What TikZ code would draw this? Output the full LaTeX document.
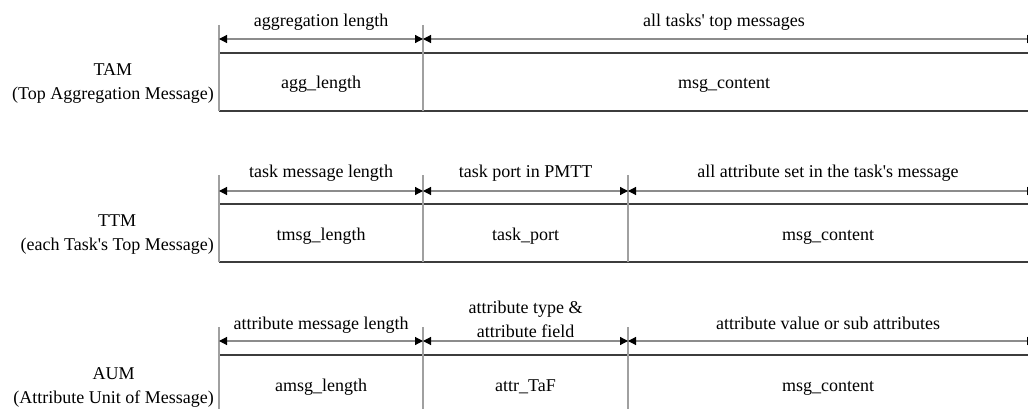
\documentclass[tikz,border=0pt]{standalone}
\usepackage{fontspec}
\setmainfont{Liberation Serif}
\usetikzlibrary{arrows.meta}
\definecolor{rulegray}{HTML}{A0A0A0}
\definecolor{dimgray}{HTML}{8C8C8C}
\definecolor{boxline}{HTML}{3C3C3C}

\begin{document}
\begin{tikzpicture}[x=1pt,y=-1pt,font=\fontsize{18}{24}\selectfont,
  >={Triangle[length=8pt,width=8pt,color=black]},
  sep/.style={draw=rulegray,line width=1.2pt},
  wall/.style={draw=boxline,line width=1.2pt},
  dim/.style={<->,draw=dimgray,line width=1.2pt},
  span/.style={anchor=base,inner sep=0pt},
  field/.style={anchor=base,inner sep=0pt},
  kind/.style={anchor=east,align=center,inner sep=0pt}]
\useasboundingbox (0,0) rectangle (1028,409);
\clip (0,0) rectangle (1028,409);

% TAM
\node[kind] (tam) at (214,83.5) {TAM\\(Top Aggregation Message)};
\draw[wall] (219,53) -- (1032,53) (219,111) -- (1032,111);
\draw[sep] (219,25) -- (219,111) (423,25) -- (423,111);
\coordinate (tam0) at (219,39);
\coordinate (tam1) at (423,39);
\coordinate (tam2) at (1035,39);
\draw[dim] (tam0) -- (tam1);
\draw[dim] (tam1) -- (tam2);
\node[span] (tamLenTxt) at (321,27) {aggregation length};
\node[span] (tamAllTxt) at (724,27) {all tasks\textquotesingle\ top messages};
\node[field] (aggLen) at (321,89) {agg\_length};
\node[field] (tamMsg) at (724,89) {msg\_content};

% TTM
\node[kind] (ttm) at (214,235) {TTM\\(each Task\textquotesingle s Top Message)};
\draw[wall] (219,204) -- (1032,204) (219,262) -- (1032,262);
\draw[sep] (219,175) -- (219,262) (423,175) -- (423,262) (628,175) -- (628,262);
\coordinate (ttm0) at (219,191);
\coordinate (ttm1) at (423,191);
\coordinate (ttm2) at (628,191);
\coordinate (ttm3) at (1035,191);
\draw[dim] (ttm0) -- (ttm1);
\draw[dim] (ttm1) -- (ttm2);
\draw[dim] (ttm2) -- (ttm3);
\node[span] (ttmLenTxt) at (321,178) {task message length};
\node[span] (ttmPortTxt) at (525.5,178) {task port in PMTT};
\node[span] (ttmAllTxt) at (828,178) {all attribute set in the task\textquotesingle s message};
\node[field] (tmsgLen) at (321,240) {tmsg\_length};
\node[field] (taskPort) at (525.5,240) {task\_port};
\node[field] (ttmMsg) at (828,240) {msg\_content};

% AUM
\node[kind] (aum) at (214,387.5) {AUM\\(Attribute Unit of Message)};
\draw[wall] (219,355) -- (1032,355) (219,413) -- (1032,413);
\draw[sep] (219,327) -- (219,413) (423,327) -- (423,413) (628,327) -- (628,413);
\coordinate (aum0) at (219,341);
\coordinate (aum1) at (423,341);
\coordinate (aum2) at (628,341);
\coordinate (aum3) at (1035,341);
\draw[dim] (aum0) -- (aum1);
\draw[dim] (aum1) -- (aum2);
\draw[dim] (aum2) -- (aum3);
\node[span] (aumLenTxt) at (321,329) {attribute message length};
\node[span] (aumTypeTxt) at (525.5,313) {attribute type \&};
\node[span] (aumFieldTxt) at (525.5,337) {attribute field};
\node[span] (aumValTxt) at (828,329) {attribute value or sub attributes};
\node[field] (amsgLen) at (321,391) {amsg\_length};
\node[field] (attrTaF) at (525.5,391) {attr\_TaF};
\node[field] (aumMsg) at (828,391) {msg\_content};
\end{tikzpicture}
\end{document}
